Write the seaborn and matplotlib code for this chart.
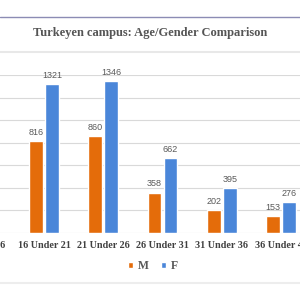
import matplotlib
matplotlib.use("Agg")
import matplotlib.pyplot as plt
from matplotlib.lines import Line2D
import seaborn as sns
import pandas as pd

# ---- data ----
categories = ["Under 16", "16 Under 21", "21 Under 26", "26 Under 31", "31 Under 36", "36 Under 41"]
shown = ["16 Under 21", "21 Under 26", "26 Under 31", "31 Under 36", "36 Under 41"]
male = [816, 860, 358, 202, 153]
female = [1321, 1346, 662, 395, 276]
series = ["M", "F"]
colors = ["#E46C0A", "#4A86D9"]

df = pd.DataFrame({
    "group": shown * 2,
    "count": male + female,
    "sex": ["M"] * len(shown) + ["F"] * len(shown),
})

sns.set_theme(style="white")
plt.rcParams["font.family"] = ["Liberation Serif", "DejaVu Serif"]

fig = plt.figure(figsize=(3, 3), dpi=100)
# axes extends beyond the left edge of the figure (the reference is cropped)
left_px = -80
ax = fig.add_axes([left_px / 300, (300 - 233) / 300, (300 - left_px) / 300, (233 - 75) / 300])

sns.barplot(data=df, x="group", y="count", hue="sex", order=categories,
            hue_order=series, palette=colors, width=0.54, gap=0.15,
            saturation=1, ax=ax, legend=True)

for cont in ax.containers:
    ax.bar_label(cont, padding=3, fontsize=6.5, color="#595959",
                 family=["Liberation Sans", "DejaVu Sans"])

spacing = 59.25
ax.set_ylim(0, 1400)
ax.set_yticks(range(0, 1401, 200))
ax.yaxis.grid(True, color="#D9D9D9", linewidth=0.8)
ax.set_axisbelow(True)
ax.set_xlim(1 - (44 - left_px) / spacing, 1 + (300 - 44) / spacing)
ax.tick_params(axis="y", left=False, labelleft=False)
ax.tick_params(axis="x", bottom=False, length=0, pad=5.5, labelsize=7.3, labelcolor="#404040")
for lab in ax.get_xticklabels():
    lab.set_fontweight("bold")
ax.set_xlabel("")
ax.set_ylabel("")
for s in ax.spines.values():
    s.set_visible(False)

handles, labels = ax.get_legend_handles_labels()
ax.get_legend().remove()
fig.legend(handles, labels, loc="center", bbox_to_anchor=(0.51, (300 - 266) / 300),
           ncol=2, frameon=False, handlelength=0.45, handleheight=0.45,
           handletextpad=0.4, columnspacing=1.0,
           prop={"weight": "bold", "size": 8.5}, labelcolor="#595959")

fig.text(0.5, (300 - 33) / 300, "Turkeyen campus: Age/Gender Comparison",
         ha="center", va="center", fontsize=9, fontweight="bold", color="#555555")

fig.add_artist(Line2D([0, 1], [(300 - 17) / 300] * 2, color="#8C8CB4", lw=1))
fig.add_artist(Line2D([0, 1], [(300 - 52) / 300] * 2, color="#E8E8E8", lw=1.5))
fig.add_artist(Line2D([0, 1], [(300 - 283) / 300] * 2, color="#EDEDED", lw=1.5))

fig.savefig("out.png", dpi=100)
